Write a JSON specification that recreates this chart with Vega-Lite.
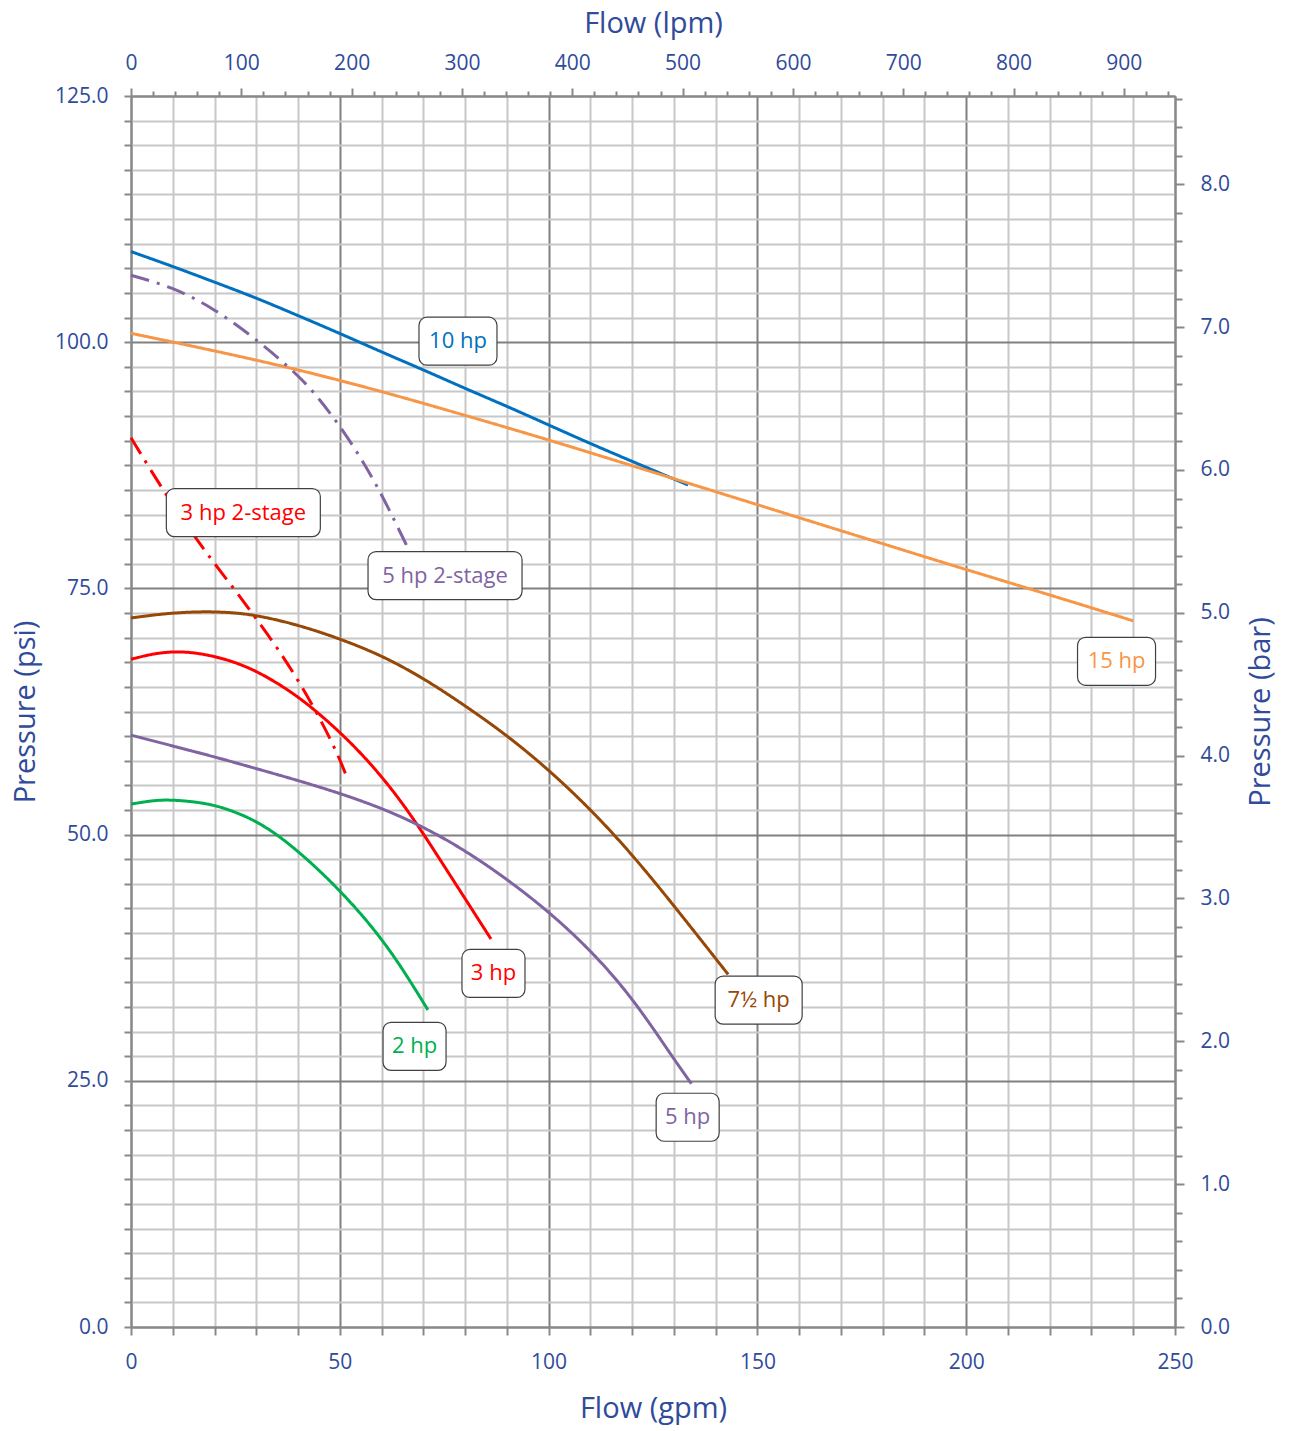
{
  "$schema": "https://vega.github.io/schema/vega-lite/v6.json",
  "width": 1044,
  "height": 1231,
  "autosize": {"type": "none"},
  "padding": {"left": 131, "top": 96, "right": 114, "bottom": 104},
  "background": "white",
  "config": {
    "view": {"stroke": null},
    "font": "Open Sans"
  },
  "datasets": {
    "curves": [
      {"s": "10 hp", "q": 0, "p": 109.2}, {"s": "10 hp", "q": 10, "p": 107.7}, {"s": "10 hp", "q": 20, "p": 106.1}, {"s": "10 hp", "q": 30, "p": 104.5}, {"s": "10 hp", "q": 40, "p": 102.7}, {"s": "10 hp", "q": 50, "p": 100.9}, {"s": "10 hp", "q": 60, "p": 99.0}, {"s": "10 hp", "q": 70, "p": 97.2}, {"s": "10 hp", "q": 80, "p": 95.3}, {"s": "10 hp", "q": 90, "p": 93.5}, {"s": "10 hp", "q": 100, "p": 91.6}, {"s": "10 hp", "q": 110, "p": 89.7}, {"s": "10 hp", "q": 120, "p": 87.9}, {"s": "10 hp", "q": 133.4, "p": 85.5},
      {"s": "15 hp", "q": 0, "p": 100.9}, {"s": "15 hp", "q": 25, "p": 98.7}, {"s": "15 hp", "q": 50, "p": 96.2}, {"s": "15 hp", "q": 75, "p": 93.2}, {"s": "15 hp", "q": 100, "p": 90.1}, {"s": "15 hp", "q": 125, "p": 86.8}, {"s": "15 hp", "q": 150, "p": 83.5}, {"s": "15 hp", "q": 175, "p": 80.2}, {"s": "15 hp", "q": 200, "p": 76.9}, {"s": "15 hp", "q": 225, "p": 73.7}, {"s": "15 hp", "q": 240, "p": 71.7},
      {"s": "5 hp 2-stage", "q": 0, "p": 106.8}, {"s": "5 hp 2-stage", "q": 10, "p": 105.6}, {"s": "5 hp 2-stage", "q": 20, "p": 103.4}, {"s": "5 hp 2-stage", "q": 30, "p": 100.3}, {"s": "5 hp 2-stage", "q": 40, "p": 96.7}, {"s": "5 hp 2-stage", "q": 45, "p": 94.3}, {"s": "5 hp 2-stage", "q": 50, "p": 91.5}, {"s": "5 hp 2-stage", "q": 55, "p": 88.3}, {"s": "5 hp 2-stage", "q": 60, "p": 84.6}, {"s": "5 hp 2-stage", "q": 66.3, "p": 79.1},
      {"s": "3 hp 2-stage", "q": 0, "p": 90.3}, {"s": "3 hp 2-stage", "q": 5, "p": 86.8}, {"s": "3 hp 2-stage", "q": 10, "p": 83.5}, {"s": "3 hp 2-stage", "q": 15, "p": 80.4}, {"s": "3 hp 2-stage", "q": 20, "p": 77.5}, {"s": "3 hp 2-stage", "q": 25, "p": 74.8}, {"s": "3 hp 2-stage", "q": 30, "p": 71.9}, {"s": "3 hp 2-stage", "q": 35, "p": 69.0}, {"s": "3 hp 2-stage", "q": 40, "p": 65.7}, {"s": "3 hp 2-stage", "q": 45, "p": 62.0}, {"s": "3 hp 2-stage", "q": 49.4, "p": 58.3}, {"s": "3 hp 2-stage", "q": 52, "p": 55.5},
      {"s": "7½ hp", "q": 0, "p": 72.0}, {"s": "7½ hp", "q": 8, "p": 72.45}, {"s": "7½ hp", "q": 16, "p": 72.65}, {"s": "7½ hp", "q": 23, "p": 72.6}, {"s": "7½ hp", "q": 30, "p": 72.3}, {"s": "7½ hp", "q": 40, "p": 71.3}, {"s": "7½ hp", "q": 50, "p": 69.9}, {"s": "7½ hp", "q": 60, "p": 68.2}, {"s": "7½ hp", "q": 70, "p": 65.9}, {"s": "7½ hp", "q": 80, "p": 63.1}, {"s": "7½ hp", "q": 90, "p": 60.1}, {"s": "7½ hp", "q": 100, "p": 56.6}, {"s": "7½ hp", "q": 110, "p": 52.6}, {"s": "7½ hp", "q": 120, "p": 48.0}, {"s": "7½ hp", "q": 130, "p": 42.8}, {"s": "7½ hp", "q": 143, "p": 35.8},
      {"s": "3 hp", "q": 0, "p": 67.8}, {"s": "3 hp", "q": 5, "p": 68.35}, {"s": "3 hp", "q": 10, "p": 68.6}, {"s": "3 hp", "q": 15, "p": 68.5}, {"s": "3 hp", "q": 20, "p": 68.1}, {"s": "3 hp", "q": 25, "p": 67.5}, {"s": "3 hp", "q": 30, "p": 66.6}, {"s": "3 hp", "q": 35, "p": 65.4}, {"s": "3 hp", "q": 40, "p": 64.0}, {"s": "3 hp", "q": 45, "p": 62.3}, {"s": "3 hp", "q": 50, "p": 60.4}, {"s": "3 hp", "q": 55, "p": 58.3}, {"s": "3 hp", "q": 60, "p": 55.9}, {"s": "3 hp", "q": 65, "p": 53.2}, {"s": "3 hp", "q": 70, "p": 50.1}, {"s": "3 hp", "q": 75, "p": 46.8}, {"s": "3 hp", "q": 80, "p": 43.5}, {"s": "3 hp", "q": 86.2, "p": 39.4},
      {"s": "5 hp", "q": 0, "p": 60.1}, {"s": "5 hp", "q": 10, "p": 59.0}, {"s": "5 hp", "q": 20, "p": 57.9}, {"s": "5 hp", "q": 30, "p": 56.7}, {"s": "5 hp", "q": 40, "p": 55.5}, {"s": "5 hp", "q": 50, "p": 54.2}, {"s": "5 hp", "q": 60, "p": 52.7}, {"s": "5 hp", "q": 70, "p": 50.8}, {"s": "5 hp", "q": 80, "p": 48.4}, {"s": "5 hp", "q": 90, "p": 45.5}, {"s": "5 hp", "q": 100, "p": 42.2}, {"s": "5 hp", "q": 110, "p": 38.3}, {"s": "5 hp", "q": 120, "p": 33.5}, {"s": "5 hp", "q": 130, "p": 27.2}, {"s": "5 hp", "q": 134.2, "p": 24.7},
      {"s": "2 hp", "q": 0, "p": 53.1}, {"s": "2 hp", "q": 5, "p": 53.45}, {"s": "2 hp", "q": 9, "p": 53.55}, {"s": "2 hp", "q": 15, "p": 53.35}, {"s": "2 hp", "q": 20, "p": 53.0}, {"s": "2 hp", "q": 25, "p": 52.3}, {"s": "2 hp", "q": 30, "p": 51.35}, {"s": "2 hp", "q": 35, "p": 50.0}, {"s": "2 hp", "q": 40, "p": 48.3}, {"s": "2 hp", "q": 45, "p": 46.4}, {"s": "2 hp", "q": 50, "p": 44.3}, {"s": "2 hp", "q": 55, "p": 42.0}, {"s": "2 hp", "q": 60, "p": 39.4}, {"s": "2 hp", "q": 65, "p": 36.4}, {"s": "2 hp", "q": 71.1, "p": 32.2}
    ],
    "labels": [
      {"s": "10 hp", "q": 78.3, "p": 100.1},
      {"s": "3 hp 2-stage", "q": 26.9, "p": 82.7},
      {"s": "5 hp 2-stage", "q": 75.2, "p": 76.3},
      {"s": "15 hp", "q": 236, "p": 67.6},
      {"s": "3 hp", "q": 86.8, "p": 35.9},
      {"s": "7½ hp", "q": 150.3, "p": 33.2},
      {"s": "2 hp", "q": 67.9, "p": 28.5},
      {"s": "5 hp", "q": 133.3, "p": 21.3}
    ],
    "metric": [
      {"lpm": 0, "bar": 0},
      {"lpm": 946.353, "bar": 8.6184}
    ]
  },
  "layer": [
    {
      "layer": [
        {
          "data": {"name": "curves"},
          "mark": {"type": "line", "strokeWidth": 3, "interpolate": "basis", "strokeCap": "butt"},
          "encoding": {
            "x": {
              "field": "q", "type": "quantitative",
              "scale": {"domain": [0, 250], "nice": false, "zero": false},
              "axis": {
                "orient": "bottom", "title": "Flow (gpm)",
                "values": [0,10,20,30,40,50,60,70,80,90,100,110,120,130,140,150,160,170,180,190,200,210,220,230,240,250],
                "tickCount": 500,
                "labelExpr": "datum.value % 50 === 0 ? format(datum.value, 'd') : ''",
                "labelOverlap": false, "labelFlush": false,
                "grid": true,
                "gridColor": {"condition": {"test": "datum.value % 50 === 0", "value": "#808080"}, "value": "#C8C8C8"},
                "gridWidth": 2,
                "domainColor": "#888888", "domainWidth": 2,
                "tickColor": "#888888", "tickWidth": 2, "tickSize": 8,
                "labelFont": "Open Sans", "labelFontSize": 21, "labelColor": "#2F4B9A", "labelPadding": 16,
                "titleFont": "Open Sans", "titleFontSize": 29, "titleFontWeight": "normal", "titleColor": "#2F4B9A", "titlePadding": 22
              }
            },
            "y": {
              "field": "p", "type": "quantitative",
              "scale": {"domain": [0, 125], "nice": false, "zero": false},
              "axis": {
                "orient": "left", "title": "Pressure (psi)",
                "values": [0,2.5,5,7.5,10,12.5,15,17.5,20,22.5,25,27.5,30,32.5,35,37.5,40,42.5,45,47.5,50,52.5,55,57.5,60,62.5,65,67.5,70,72.5,75,77.5,80,82.5,85,87.5,90,92.5,95,97.5,100,102.5,105,107.5,110,112.5,115,117.5,120,122.5,125],
                "tickCount": 500,
                "labelExpr": "datum.value % 25 === 0 ? format(datum.value, '.1f') : ''",
                "labelOverlap": false, "labelFlush": false,
                "grid": true,
                "gridColor": {"condition": {"test": "datum.value % 25 === 0", "value": "#808080"}, "value": "#C8C8C8"},
                "gridWidth": 2,
                "domainColor": "#888888", "domainWidth": 2,
                "tickColor": "#888888", "tickWidth": 2, "tickSize": 7,
                "labelFont": "Open Sans", "labelFontSize": 21, "labelColor": "#2F4B9A", "labelPadding": 16,
                "titleFont": "Open Sans", "titleFontSize": 29, "titleFontWeight": "normal", "titleColor": "#2F4B9A", "titlePadding": 14
              }
            },
            "color": {
              "field": "s", "type": "nominal", "legend": null,
              "scale": {
                "domain": ["2 hp", "3 hp", "3 hp 2-stage", "5 hp", "5 hp 2-stage", "7½ hp", "10 hp", "15 hp"],
                "range": ["#00B050", "#FF0000", "#FF0000", "#8064A2", "#8064A2", "#974706", "#0070C0", "#F79646"]
              }
            },
            "strokeDash": {
              "field": "s", "type": "nominal", "legend": null,
              "scale": {
                "domain": ["2 hp", "3 hp", "3 hp 2-stage", "5 hp", "5 hp 2-stage", "7½ hp", "10 hp", "15 hp"],
                "range": [[1, 0], [1, 0], [19, 8, 3, 8], [1, 0], [19, 8, 3, 8], [1, 0], [1, 0], [1, 0]]
              }
            }
          }
        },
        {
          "data": {"name": "labels"},
          "transform": [{"filter": "length(datum.s) === 4"}],
          "mark": {"type": "rect", "fill": "white", "stroke": "#404040", "strokeWidth": 1.2, "cornerRadius": 8, "xOffset": -31.5, "x2Offset": 31.5, "yOffset": -24, "y2Offset": 24},
          "encoding": {
            "x": {"field": "q", "type": "quantitative"},
            "x2": {"field": "q"},
            "y": {"field": "p", "type": "quantitative"},
            "y2": {"field": "p"}
          }
        },
        {
          "data": {"name": "labels"},
          "transform": [{"filter": "datum.s === '10 hp' || datum.s === '15 hp'"}],
          "mark": {"type": "rect", "fill": "white", "stroke": "#404040", "strokeWidth": 1.2, "cornerRadius": 8, "xOffset": -39, "x2Offset": 39, "yOffset": -24, "y2Offset": 24},
          "encoding": {
            "x": {"field": "q", "type": "quantitative"},
            "x2": {"field": "q"},
            "y": {"field": "p", "type": "quantitative"},
            "y2": {"field": "p"}
          }
        },
        {
          "data": {"name": "labels"},
          "transform": [{"filter": "datum.s === '7½ hp'"}],
          "mark": {"type": "rect", "fill": "white", "stroke": "#404040", "strokeWidth": 1.2, "cornerRadius": 8, "xOffset": -43.5, "x2Offset": 43.5, "yOffset": -24, "y2Offset": 24},
          "encoding": {
            "x": {"field": "q", "type": "quantitative"},
            "x2": {"field": "q"},
            "y": {"field": "p", "type": "quantitative"},
            "y2": {"field": "p"}
          }
        },
        {
          "data": {"name": "labels"},
          "transform": [{"filter": "length(datum.s) > 6"}],
          "mark": {"type": "rect", "fill": "white", "stroke": "#404040", "strokeWidth": 1.2, "cornerRadius": 8, "xOffset": -77, "x2Offset": 77, "yOffset": -24, "y2Offset": 24},
          "encoding": {
            "x": {"field": "q", "type": "quantitative"},
            "x2": {"field": "q"},
            "y": {"field": "p", "type": "quantitative"},
            "y2": {"field": "p"}
          }
        },
        {
          "data": {"name": "labels"},
          "mark": {"type": "text", "font": "Open Sans", "fontSize": 22, "align": "center", "baseline": "middle"},
          "encoding": {
            "x": {"field": "q", "type": "quantitative"},
            "y": {"field": "p", "type": "quantitative"},
            "text": {"field": "s"},
            "color": {"field": "s", "type": "nominal", "legend": null}
          }
        }
      ]
    },
    {
      "data": {"name": "metric"},
      "mark": {"type": "point", "opacity": 0},
      "encoding": {
        "x": {
          "field": "lpm", "type": "quantitative",
          "scale": {"domain": [0, 946.353], "nice": false, "zero": false},
          "axis": {
            "orient": "top", "title": "Flow (lpm)",
            "values": [0,20,40,60,80,100,120,140,160,180,200,220,240,260,280,300,320,340,360,380,400,420,440,460,480,500,520,540,560,580,600,620,640,660,680,700,720,740,760,780,800,820,840,860,880,900,920,940],
            "tickCount": 500,
            "labelExpr": "datum.value % 100 === 0 ? format(datum.value, 'd') : ''",
            "labelOverlap": false, "labelFlush": false,
            "grid": false,
            "domainColor": "#888888", "domainWidth": 2,
            "tickColor": "#888888", "tickWidth": 2,
            "tickSize": {"condition": {"test": "datum.value % 100 === 0", "value": 8}, "value": 5},
            "labelFont": "Open Sans", "labelFontSize": 21, "labelColor": "#2F4B9A", "labelPadding": 15,
            "titleFont": "Open Sans", "titleFontSize": 29, "titleFontWeight": "normal", "titleColor": "#2F4B9A", "titlePadding": 14
          }
        },
        "y": {
          "field": "bar", "type": "quantitative",
          "scale": {"domain": [0, 8.6184], "nice": false, "zero": false},
          "axis": {
            "orient": "right", "title": "Pressure (bar)", "titleAngle": -90, "titleBaseline": "top",
            "values": [0,0.2,0.4,0.6,0.8,1,1.2,1.4,1.6,1.8,2,2.2,2.4,2.6,2.8,3,3.2,3.4,3.6,3.8,4,4.2,4.4,4.6,4.8,5,5.2,5.4,5.6,5.8,6,6.2,6.4,6.6,6.8,7,7.2,7.4,7.6,7.8,8,8.2,8.4,8.6],
            "tickCount": 500,
            "labelExpr": "abs(datum.value - round(datum.value)) < 0.001 ? format(datum.value, '.1f') : ''",
            "labelOverlap": false, "labelFlush": false,
            "grid": false,
            "domainColor": "#888888", "domainWidth": 2,
            "tickColor": "#888888", "tickWidth": 2,
            "tickSize": {"condition": {"test": "abs(datum.value - round(datum.value)) < 0.001", "value": 9}, "value": 7},
            "labelFont": "Open Sans", "labelFontSize": 21, "labelColor": "#2F4B9A", "labelPadding": 16,
            "titleFont": "Open Sans", "titleFontSize": 29, "titleFontWeight": "normal", "titleColor": "#2F4B9A", "titlePadding": 17
          }
        }
      }
    }
  ],
  "resolve": {"scale": {"x": "independent", "y": "independent"}}
}
